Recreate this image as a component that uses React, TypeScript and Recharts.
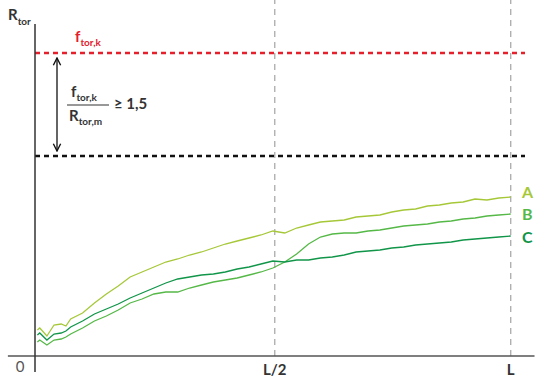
import React from "react";
import { LineChart, Line, XAxis, YAxis, ReferenceLine } from "recharts";

// position along the beam, L = 100
const positions = [
  0.5, 1, 2.5, 4, 5.5, 6.5, 7.5, 10, 12.5, 15, 17.5, 20, 22.5, 25, 27.5, 30,
  32.5, 35, 37.5, 40, 42.5, 45, 47.5, 50, 52.5, 55, 57.5, 60, 62.5, 65, 67.5,
  70, 72.5, 75, 77.5, 80, 82.5, 85, 87.5, 90, 92.5, 95, 97.5, 100,
];

const seriesA = [
  26, 28, 20, 31, 32, 30, 37, 43, 53, 62, 70, 79, 84, 89, 94, 97, 101, 104,
  108, 112, 115, 118, 121, 125, 123, 128, 131, 134, 135, 136, 139, 140, 141,
  144, 146, 147, 150, 151, 153, 154, 157, 156, 158, 159,
];
const seriesB = [
  14, 16, 11, 16, 17, 19, 22, 28, 35, 40, 46, 53, 57, 62, 64, 64, 68, 71, 74,
  76, 78, 81, 84, 88, 94, 102, 112, 119, 122, 123, 123, 125, 126, 128, 130,
  131, 132, 134, 135, 137, 138, 140, 141, 142,
];
const seriesC = [
  21, 23, 16, 22, 23, 25, 29, 35, 42, 47, 52, 58, 63, 68, 73, 77, 79, 81, 82,
  84, 87, 89, 92, 95, 94, 96, 96, 98, 99, 101, 104, 105, 106, 108, 109, 111,
  112, 113, 114, 116, 117, 118, 119, 120,
];

const xTicks = [50.4, 100];
const xTickLabels = ["L/2", "L"];
const characteristic = 303; // f_tor,k
const meanLimit = 200; // f_tor,k / 1,5

const COLORS = { A: "#a6c838", B: "#55b847", C: "#119549" };
const FONT = "Lato, 'Open Sans', sans-serif";

const data = positions.map((x, i) => ({
  x,
  A: seriesA[i],
  B: seriesB[i],
  C: seriesC[i],
}));

export default function App() {
  return (
    <div style={{ position: "relative", width: 535, height: 379, fontFamily: FONT }}>
      <style>{`body{margin:0}`}</style>
      <LineChart
        width={535}
        height={379}
        data={data}
        margin={{ top: 28, right: 10, bottom: 0, left: 35 }}
      >
        <XAxis
          dataKey="x"
          type="number"
          domain={[0, 103]}
          ticks={xTicks}
          tickFormatter={(v: number) => xTickLabels[xTicks.indexOf(v)]}
          axisLine={false}
          tickLine={false}
          tick={{ fill: "#333", fontSize: 15, fontWeight: 700, fontFamily: FONT }}
          tickMargin={2}
          height={23}
        />
        <YAxis type="number" domain={[0, 328]} hide width={0} />

        <ReferenceLine
          segment={[{ x: 50.4, y: 0 }, { x: 50.4, y: 356 }]}
          stroke="#aaa"
          strokeDasharray="6 5"
          strokeWidth={1.3}
          ifOverflow="visible"
        />
        <ReferenceLine
          segment={[{ x: 100, y: 0 }, { x: 100, y: 356 }]}
          stroke="#aaa"
          strokeDasharray="6 5"
          strokeWidth={1.3}
          ifOverflow="visible"
        />
        <ReferenceLine
          segment={[{ x: 0, y: characteristic }, { x: 103, y: characteristic }]}
          stroke="#e3202b"
          strokeDasharray="5 4"
          strokeWidth={2.5}
          ifOverflow="visible"
        />
        <ReferenceLine
          segment={[{ x: 0, y: meanLimit }, { x: 103, y: meanLimit }]}
          stroke="#111"
          strokeDasharray="5 4"
          strokeWidth={2.5}
          ifOverflow="visible"
        />
        <ReferenceLine
          segment={[{ x: -5.7, y: 0 }, { x: 105, y: 0 }]}
          stroke="#555"
          strokeWidth={1.5}
          ifOverflow="visible"
        />
        <ReferenceLine
          segment={[{ x: 0, y: -16 }, { x: 0, y: 332 }]}
          stroke="#333"
          strokeWidth={1.5}
          ifOverflow="visible"
        />

        <Line dataKey="A" stroke={COLORS.A} strokeWidth={1.3} dot={false} isAnimationActive={false} />
        <Line dataKey="B" stroke={COLORS.B} strokeWidth={1.3} dot={false} isAnimationActive={false} />
        <Line dataKey="C" stroke={COLORS.C} strokeWidth={1.3} dot={false} isAnimationActive={false} />
      </LineChart>

      <svg
        width={535}
        height={379}
        style={{ position: "absolute", left: 0, top: 0, pointerEvents: "none" }}
        fontFamily={FONT}
      >
        <defs>
          <marker id="head" viewBox="0 0 10 10" refX="9" refY="5" markerWidth="7" markerHeight="7" orient="auto-start-reverse">
            <path d="M1,1 L9,5 L1,9" fill="none" stroke="#111" strokeWidth={1.5} />
          </marker>
        </defs>
        <text x={8} y={20} fill="#333" fontSize={15} fontWeight={700}>
          R<tspan fontSize={10} dy={5}>tor</tspan>
        </text>
        <text x={75} y={42} fill="#e3202b" fontSize={15} fontWeight={700}>
          f<tspan fontSize={10} dy={4}>tor,k</tspan>
        </text>
        <line x1={57} y1={58} x2={57} y2={151} stroke="#111" strokeWidth={1.3} markerStart="url(#head)" markerEnd="url(#head)" />
        <text x={71} y={97} fill="#333" fontSize={15} fontWeight={700}>
          f<tspan fontSize={10} dy={4}>tor,k</tspan>
        </text>
        <line x1={67} y1={105} x2={109} y2={105} stroke="#333" strokeWidth={1.2} />
        <text x={69} y={121} fill="#333" fontSize={15} fontWeight={700}>
          R<tspan fontSize={10} dy={4}>tor,m</tspan>
        </text>
        <text x={114} y={109} fill="#333" fontSize={15} fontWeight={700}>
          ≥ 1,5
        </text>
        <text x={20} y={372} fill="#555" fontSize={15} textAnchor="middle">
          0
        </text>
        <text x={522} y={198} fill={COLORS.A} fontSize={16} fontWeight={700}>A</text>
        <text x={522} y={220} fill={COLORS.B} fontSize={16} fontWeight={700}>B</text>
        <text x={522} y={243} fill={COLORS.C} fontSize={16} fontWeight={700}>C</text>
      </svg>
    </div>
  );
}
